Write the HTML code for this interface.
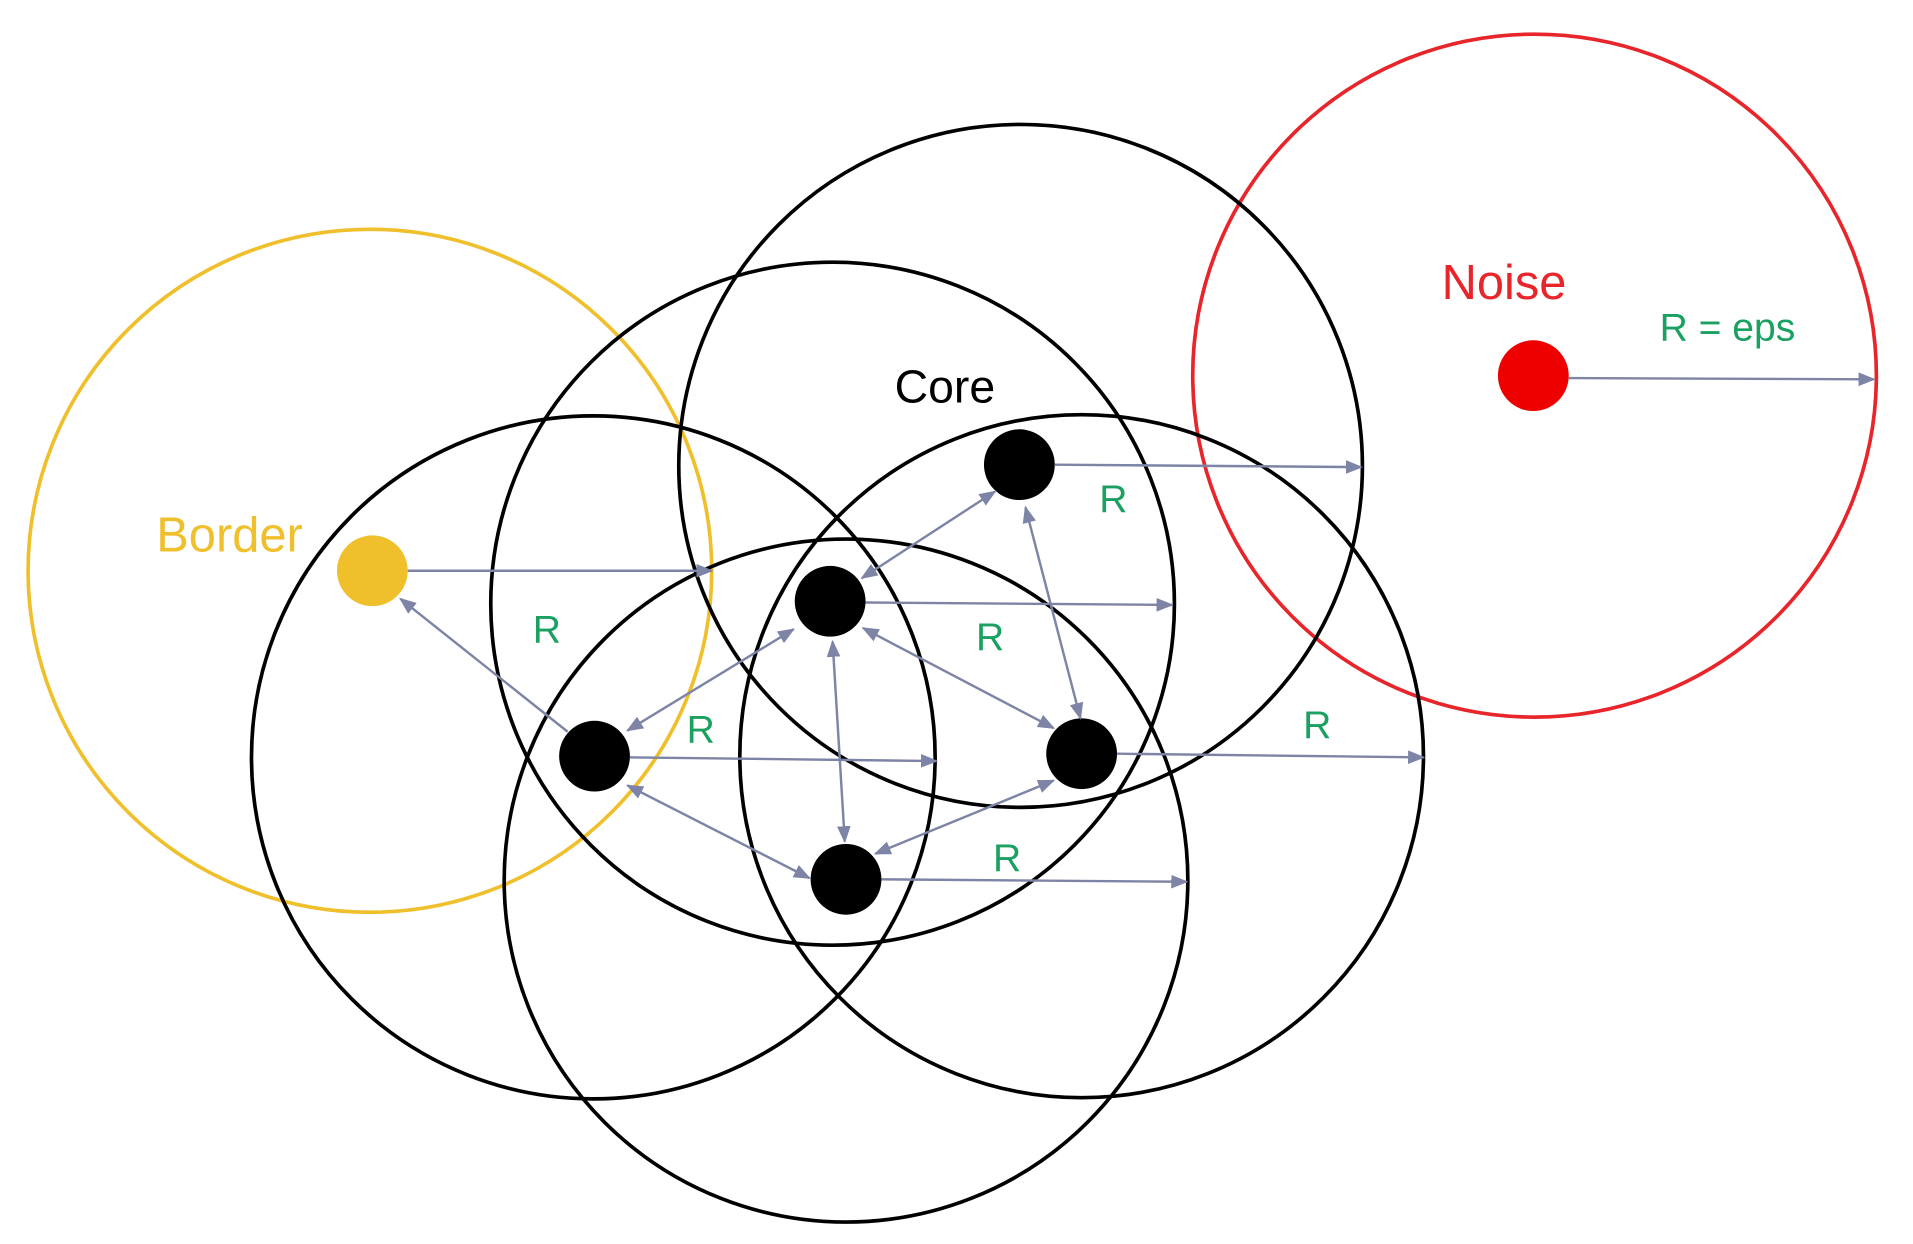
<!DOCTYPE html>
<html><head><style>html,body{margin:0;padding:0;background:#fff}svg{display:block}</style></head>
<body>
<svg width="1913" height="1244" viewBox="0 0 1567 1020" preserveAspectRatio="none" xmlns="http://www.w3.org/2000/svg">
<defs>
<marker id="a" viewBox="0 0 10 10" refX="9" refY="5" markerWidth="7" markerHeight="7" orient="auto-start-reverse"><path d="M0,1 L10,5 L0,9 z" fill="#7d84a6"/></marker>
</defs>
<g fill="none" stroke-width="3">
<circle cx="303" cy="468" r="280" stroke="#f0bf2c"/>
<circle cx="1257" cy="308" r="280" stroke="#e8252a"/>
<g stroke="#000">
<circle cx="836" cy="382" r="280"/>
<circle cx="682" cy="495" r="280"/>
<circle cx="486" cy="621" r="280"/>
<circle cx="886" cy="620" r="280"/>
<circle cx="693" cy="722" r="280"/>
</g>
</g>
<circle cx="305" cy="468" r="29" fill="#f0bf2c"/>
<circle cx="1256" cy="308" r="29" fill="#ee0000"/>
<g fill="#000">
<circle cx="835" cy="381" r="29"/>
<circle cx="680" cy="493" r="29"/>
<circle cx="487" cy="620" r="29"/>
<circle cx="886" cy="618" r="29"/>
<circle cx="693" cy="721" r="29"/>
</g>
<g stroke="#7d84a6" stroke-width="2" fill="none">
<line x1="1285" y1="310" x2="1535" y2="311" marker-end="url(#a)"/>
<line x1="864" y1="381" x2="1115" y2="383" marker-end="url(#a)"/>
<line x1="334" y1="468" x2="583" y2="468" marker-end="url(#a)"/>
<line x1="709" y1="494" x2="960" y2="496" marker-end="url(#a)"/>
<line x1="516" y1="621" x2="767" y2="624" marker-end="url(#a)"/>
<line x1="915" y1="618" x2="1166" y2="621" marker-end="url(#a)"/>
<line x1="722" y1="721" x2="972" y2="723" marker-end="url(#a)"/>
<line x1="815" y1="403" x2="706" y2="474" marker-start="url(#a)" marker-end="url(#a)"/>
<line x1="650" y1="516" x2="514" y2="599" marker-start="url(#a)" marker-end="url(#a)"/>
<line x1="707" y1="515" x2="863" y2="597" marker-start="url(#a)" marker-end="url(#a)"/>
<line x1="682" y1="526" x2="692" y2="690" marker-start="url(#a)" marker-end="url(#a)"/>
<line x1="840" y1="416" x2="885" y2="589" marker-start="url(#a)" marker-end="url(#a)"/>
<line x1="863" y1="640" x2="717" y2="700" marker-start="url(#a)" marker-end="url(#a)"/>
<line x1="514" y1="644" x2="663" y2="720" marker-start="url(#a)" marker-end="url(#a)"/>
<line x1="465" y1="600" x2="328" y2="491" marker-end="url(#a)"/>
</g>
<g font-family="Liberation Sans, sans-serif" text-anchor="middle">
<text x="1232" y="245" font-size="40" fill="#e8252a">Noise</text>
<text x="1415" y="279" font-size="32" fill="#1aa060">R = eps</text>
<text x="774" y="330" font-size="38" fill="#000">Core</text>
<text x="188" y="452" font-size="40" fill="#f0bf2c">Border</text>
<g font-size="32" fill="#1aa060">
<text x="912" y="420">R</text>
<text x="448" y="527">R</text>
<text x="811" y="533">R</text>
<text x="574" y="609">R</text>
<text x="1079" y="605">R</text>
<text x="825" y="714">R</text>
</g>
</g>
</svg>
</body></html>
